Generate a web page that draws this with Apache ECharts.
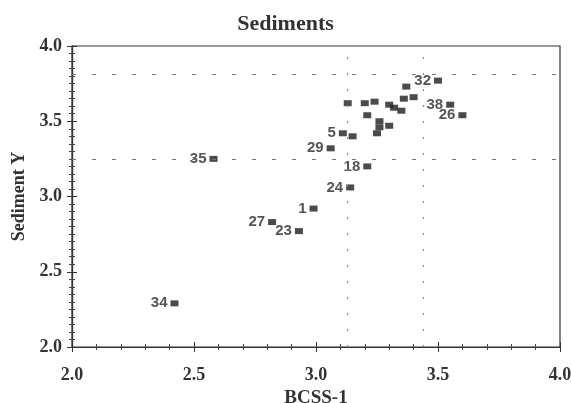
<!DOCTYPE html>
<html>
<head>
<meta charset="utf-8">
<script src="https://cdn.jsdelivr.net/npm/echarts@6/dist/echarts.min.js"></script>
<style>
  html, body { margin: 0; padding: 0; background: #fff; }
  #chart { width: 571px; height: 403px; }
</style>
</head>
<body>
<div id="chart"></div>
<script>
// Site scores: BCSS-1 against sediment Y, one entry per site
const bcss = [3.13, 3.20, 3.24, 3.21, 3.30, 3.32, 3.35, 3.36, 3.40, 3.37, 3.26, 3.26, 3.30, 3.25,
              3.11, 3.15, 3.50, 3.55, 3.60, 3.06, 3.21, 3.14, 2.99, 2.82, 2.93, 2.58, 2.42];
const sedimentY = [3.62, 3.62, 3.63, 3.54, 3.61, 3.59, 3.57, 3.65, 3.66, 3.73, 3.50, 3.46, 3.47, 3.42,
                   3.42, 3.40, 3.77, 3.61, 3.54, 3.32, 3.20, 3.06, 2.92, 2.83, 2.77, 3.25, 2.29];
const siteIds = ['', '', '', '', '', '', '', '', '', '', '', '', '', '',
                 '5', '', '32', '38', '26', '29', '18', '24', '1', '27', '23', '35', '34'];

// Reference cut-offs drawn as dashed guides
const xGuides = [3.13, 3.44];
const yGuides = [3.81, 3.25];

// Axis ranges and tick labels
const axisMin = 2.0, axisMax = 4.0, axisStep = 0.5;

const serifBold = { fontFamily: 'Liberation Serif', fontWeight: 'bold', color: '#333' };
const gridBox = { left: 72, right: 11, top: 46, bottom: 56, containLabel: false, outerBoundsMode: 'none' };

function xAx(gridIndex, inside, withText) {
  return {
    type: 'value', gridIndex, min: axisMin, max: axisMax, interval: axisStep,
    position: 'bottom',
    name: withText ? 'BCSS-1' : '', nameLocation: 'middle', nameGap: 33,
    nameTextStyle: Object.assign({ fontSize: 19 }, serifBold),
    axisLine: { show: true, lineStyle: { color: '#333', width: 1.2 } },
    axisTick: { show: true, inside, length: 5, lineStyle: { color: '#333' } },
    minorTick: { show: true, splitNumber: 5, length: 3, lineStyle: { color: '#444' } },
    axisLabel: Object.assign({ show: withText, fontSize: 18, margin: 19,
      formatter: v => v.toFixed(1) }, serifBold),
    splitLine: { show: false }
  };
}
function yAx(gridIndex, inside, withText) {
  return {
    type: 'value', gridIndex, min: axisMin, max: axisMax, interval: axisStep,
    position: 'left',
    name: withText ? 'Sediment Y' : '', nameLocation: 'middle', nameGap: 44,
    nameTextStyle: Object.assign({ fontSize: 18 }, serifBold),
    axisLine: { show: true, lineStyle: { color: '#333', width: 1.2 } },
    axisTick: { show: true, inside, length: 5, lineStyle: { color: '#333' } },
    minorTick: { show: true, splitNumber: 10, length: 3, lineStyle: { color: '#444' } },
    axisLabel: Object.assign({ show: withText, fontSize: 18, margin: 10,
      formatter: v => v.toFixed(1) }, serifBold),
    splitLine: { show: false }
  };
}

const points = bcss.map((x, i) => ({
  value: [x, sedimentY[i]],
  label: { show: siteIds[i] !== '', formatter: siteIds[i] }
}));

const chart = echarts.init(document.getElementById('chart'), null, { renderer: 'canvas' });
chart.setOption({
  backgroundColor: '#fff',
  animation: false,
  title: {
    text: 'Sediments', left: 'center', top: 8,
    textStyle: Object.assign({ fontSize: 22 }, serifBold)
  },
  grid: [
    Object.assign({ show: true, borderColor: '#333', borderWidth: 1.2, backgroundColor: 'transparent' }, gridBox),
    Object.assign({}, gridBox)
  ],
  xAxis: [xAx(0, false, true), xAx(1, true, false)],
  yAxis: [yAx(0, false, true), yAx(1, true, false)],
  series: [{
    type: 'scatter',
    xAxisIndex: 0, yAxisIndex: 0,
    symbol: 'rect',
    symbolSize: [8, 6],
    itemStyle: { color: '#1e1e1e' },
    label: {
      position: 'left', distance: 3,
      fontFamily: 'Liberation Sans', fontWeight: 'bold', fontSize: 15, color: '#2a2a2a'
    },
    data: points,
    markLine: {
      silent: true, symbol: 'none',
      label: { show: false },
      data: [
        ...xGuides.map(v => ({ xAxis: v, lineStyle: { type: [2, 14], color: '#888', width: 1.2 } })),
        ...yGuides.map(v => ({ yAxis: v, lineStyle: { type: [4, 16], color: '#777', width: 1.2 } }))
      ]
    }
  }]
});
</script>
</body>
</html>
